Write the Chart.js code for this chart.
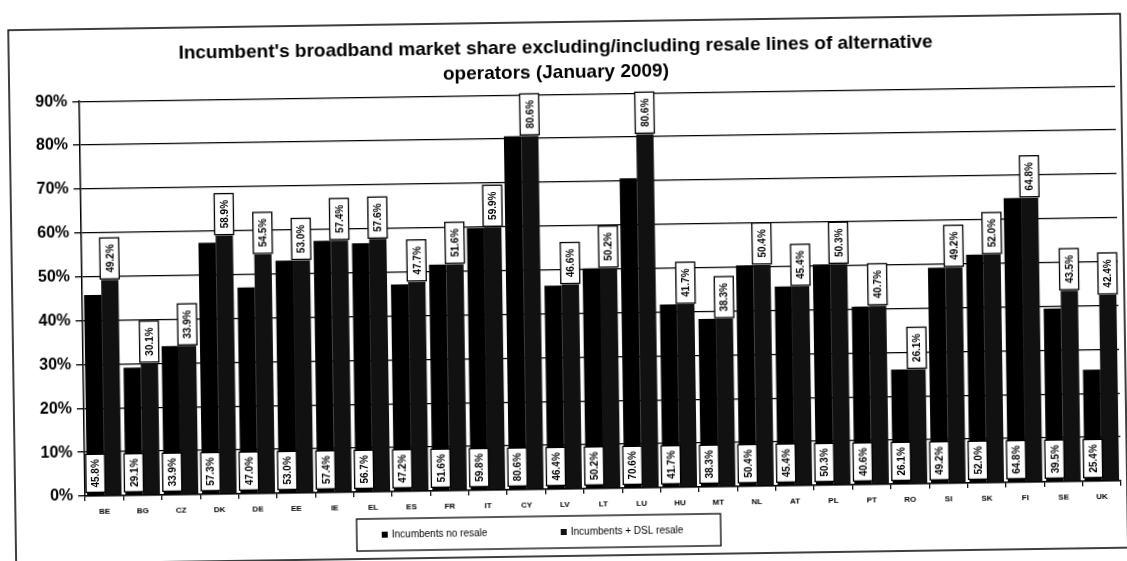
<!DOCTYPE html>
<html>
<head>
<meta charset="utf-8">
<script src="https://cdn.jsdelivr.net/npm/chart.js@4.4.1/dist/chart.umd.min.js"></script>
<style>
  html, body { margin: 0; padding: 0; background: #fff; overflow: hidden; }
  #wrap { width: 1127px; height: 561px; transform: rotate(-0.85deg); transform-origin: 563px 280px; }
</style>
</head>
<body>
<div id="wrap"><canvas id="shareChart" width="1127" height="561"></canvas></div>
<script>
const countries = ['BE','BG','CZ','DK','DE','EE','IE','EL','ES','FR','IT','CY','LV','LT','LU','HU','MT','NL','AT','PL','PT','RO','SI','SK','FI','SE','UK'];
const noResale = [45.8, 29.1, 33.9, 57.3, 47.0, 53.0, 57.4, 56.7, 47.2, 51.6, 59.8, 80.6, 46.4, 50.2, 70.6, 41.7, 38.3, 50.4, 45.4, 50.3, 40.6, 26.1, 49.2, 52.0, 64.8, 39.5, 25.4];
const dslResale = [49.2, 30.1, 33.9, 58.9, 54.5, 53.0, 57.4, 57.6, 47.7, 51.6, 59.9, 80.6, 46.6, 50.2, 80.6, 41.7, 38.3, 50.4, 45.4, 50.3, 40.7, 26.1, 49.2, 52.0, 64.8, 43.5, 42.4];
const seriesNames = ['Incumbents no resale', 'Incumbents + DSL resale'];
const titleLines = ["Incumbent's broadband market share excluding/including resale lines of alternative", 'operators (January 2009)'];

const FONT = '"Liberation Sans", Arial, sans-serif';

// white boxed, vertical value labels (bottom for series 1, top for series 2)
const boxLabels = {
  id: 'boxLabels',
  afterDatasetsDraw(chart) {
    const ctx = chart.ctx;
    ctx.save();
    ctx.font = 'bold 10px ' + FONT;
    chart.data.datasets.forEach((ds, di) => {
      chart.getDatasetMeta(di).data.forEach((bar, i) => {
        const text = ds.data[i].toFixed(1) + '%';
        const w = 19, h = di === 0 ? 38 : 41;
        const x = bar.x - w / 2;
        const y = di === 0 ? bar.base - h - 3 : bar.y - h - 1;
        ctx.fillStyle = '#fff';
        ctx.fillRect(x, y, w, h);
        ctx.strokeStyle = '#000';
        ctx.lineWidth = 1.3;
        ctx.strokeRect(x, y, w, h);
        ctx.save();
        ctx.translate(bar.x, y + h / 2);
        ctx.rotate(-Math.PI / 2);
        ctx.fillStyle = '#000';
        ctx.textAlign = 'center';
        ctx.textBaseline = 'middle';
        ctx.fillText(text, 0, 1);
        ctx.restore();
      });
    });
    ctx.restore();
  }
};

// outer frame and boxed legend
const frameAndLegend = {
  id: 'frameAndLegend',
  afterDraw(chart) {
    const ctx = chart.ctx;
    ctx.save();
    ctx.strokeStyle = '#000';
    ctx.lineWidth = 1.5;
    ctx.strokeRect(12, 22, 1112, 534);

    ctx.lineWidth = 1.3;
    ctx.strokeRect(353, 516, 364, 32);
    ctx.font = '10px ' + FONT;
    ctx.textBaseline = 'middle';
    const xs = [378, 557];
    seriesNames.forEach((name, i) => {
      ctx.fillStyle = chart.data.datasets[i].backgroundColor;
      ctx.fillRect(xs[i], 529, 6, 6);
      ctx.fillStyle = '#000';
      ctx.fillText(name, xs[i] + 10, 532);
    });
    ctx.restore();
  }
};

new Chart(document.getElementById('shareChart').getContext('2d'), {
  type: 'bar',
  data: {
    labels: countries,
    datasets: [
      { label: seriesNames[0], data: noResale, backgroundColor: '#000', borderWidth: 0 },
      { label: seriesNames[1], data: dslResale, backgroundColor: '#111', borderWidth: 0 }
    ]
  },
  options: {
    responsive: false,
    animation: false,
    layout: { padding: { left: 0, right: 9, top: 0, bottom: 48 } },
    datasets: { bar: { categoryPercentage: 0.9, barPercentage: 1.0 } },
    plugins: {
      legend: { display: false },
      tooltip: { enabled: false },
      title: {
        display: true,
        text: titleLines,
        color: '#000',
        font: { family: FONT, size: 19, weight: 'bold', lineHeight: 1.32 },
        padding: { top: 35, bottom: 9 }
      }
    },
    scales: {
      x: {
        afterFit: s => { s.height = 24; },
        grid: { display: true, offset: true, drawOnChartArea: false, drawTicks: true, tickLength: 5, color: '#000', lineWidth: 1.2 },
        border: { display: true, color: '#000', width: 1.5 },
        ticks: { color: '#000', font: { family: FONT, size: 8, weight: 'bold' }, padding: 6, maxRotation: 0, autoSkip: false }
      },
      y: {
        min: 0,
        max: 90,
        afterFit: s => { s.width = 82; },
        grid: { color: '#000', lineWidth: 1.3, tickLength: 7 },
        border: { display: true, color: '#000', width: 1.5 },
        ticks: { stepSize: 10, color: '#000', padding: 5, font: { family: FONT, size: 16, weight: 'bold' }, callback: v => v + '%' }
      }
    }
  },
  plugins: [boxLabels, frameAndLegend]
});
</script>
</body>
</html>
